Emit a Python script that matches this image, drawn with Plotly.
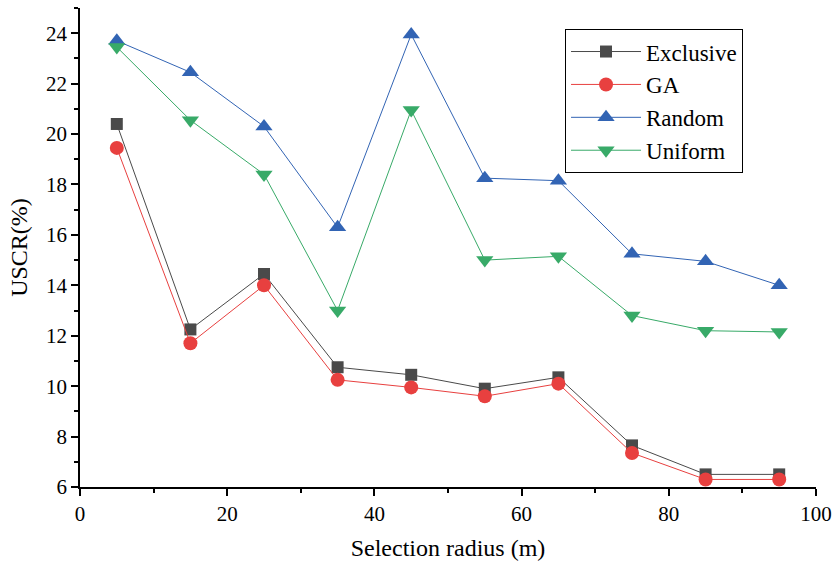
import plotly.graph_objects as go

x = [5, 15, 25, 35, 45, 55, 65, 75, 85, 95]
exclusive = [20.4, 12.25, 14.45, 10.75, 10.45, 9.9, 10.35, 7.65, 6.5, 6.5]
ga = [19.45, 11.7, 14.0, 10.25, 9.95, 9.6, 10.1, 7.35, 6.3, 6.3]
random_ = [23.7, 22.45, 20.3, 16.3, 23.95, 18.25, 18.15, 15.25, 14.95, 14.0]
uniform = [23.45, 20.55, 18.4, 13.0, 20.95, 15.0, 15.15, 12.8, 12.2, 12.15]

series = [
    ("Exclusive", exclusive, "#4a4a4a", "square", 12),
    ("GA", ga, "#e8403f", "circle", 14),
    ("Random", random_, "#3264b4", "triangle-up", 15),
    ("Uniform", uniform, "#38aa68", "triangle-down", 15),
]

fig = go.Figure()
for name, ys, color, sym, sz in series:
    fig.add_trace(go.Scatter(
        x=x, y=ys, name=name, mode="lines+markers",
        line=dict(color=color, width=1),
        marker=dict(symbol=sym, size=sz, color=color),
    ))

font = "Liberation Serif, Times New Roman, Times, DejaVu Serif, serif"
fig.update_layout(
    width=834, height=564,
    margin=dict(l=80, r=18, t=8, b=77, autoexpand=False),
    paper_bgcolor="white", plot_bgcolor="white",
    font=dict(family=font, color="black"),
    showlegend=True,
    legend=dict(x=0.659, y=0.956, xanchor="left", yanchor="top",
                bordercolor="black", borderwidth=1, bgcolor="white",
                font=dict(family=font, size=23), itemwidth=70,
                entrywidth=186, tracegroupgap=0),
)
fig.update_xaxes(
    range=[0, 100], dtick=20, tick0=0,
    showline=True, linecolor="black", linewidth=1.5,
    ticks="outside", ticklen=7, tickwidth=1.5, tickcolor="black",
    minor=dict(dtick=10, ticks="outside", ticklen=4, tickwidth=1.5, tickcolor="black"),
    showgrid=False, zeroline=False, automargin=False,
    tickfont=dict(family=font, size=21),
    title=dict(text="Selection radius (m)", font=dict(family=font, size=24), standoff=14),
)
fig.update_yaxes(
    range=[6, 25], dtick=2, tick0=6,
    showline=True, linecolor="black", linewidth=1.5,
    ticks="outside", ticklen=7, tickwidth=1.5, tickcolor="black",
    minor=dict(dtick=1, ticks="outside", ticklen=4, tickwidth=1.5, tickcolor="black"),
    showgrid=False, zeroline=False, automargin=False,
    tickfont=dict(family=font, size=21),
    title=dict(text="USCR(%)", font=dict(family=font, size=24), standoff=12),
)
fig.write_html("out.html", config={"displayModeBar": False},
               post_script="document.body.style.margin='0';")
